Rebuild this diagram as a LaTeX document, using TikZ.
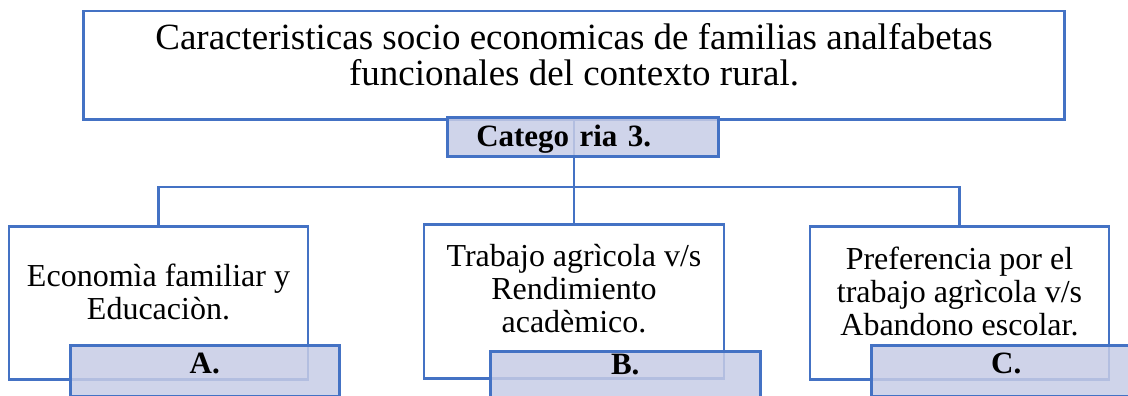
\documentclass[tikz,border=0pt]{standalone}
\usepackage{fontspec}
\setmainfont{Liberation Serif}
\definecolor{bordeazul}{RGB}{68,114,196}
\definecolor{rellenocat}{RGB}{199,204,230}
\tikzset{
  caja/.style={draw=bordeazul, line width=2.5pt, fill=white, align=center, inner sep=0pt, font=\fontsize{32}{33}\selectfont},
  etiqueta/.style={draw=bordeazul, line width=2.5pt, fill=rellenocat, fill opacity=0.85, text opacity=1, inner sep=0pt, font=\bfseries\fontsize{31}{33}\selectfont},
  rama/.style={draw=bordeazul, line width=2.5pt}
}

\begin{document}
\begin{tikzpicture}[x=1pt,y=-1pt]
  \useasboundingbox (0,0) rectangle (1128,396);
  % Titulo
  \node[caja, anchor=north, minimum width=981pt, text height=74pt, text depth=34pt, font=\fontsize{37}{36}\selectfont] (titulo) at (574,10) {Caracteristicas socio economicas de familias analfabetas\\ funcionales del contexto rural.};
  % Subcategorias
  \node[caja, anchor=north, minimum width=299pt, text height=93pt, text depth=60pt] (economia) at (158.5,225) {Economìa familiar y\\ Educaciòn.};
  \node[caja, anchor=north, minimum width=300pt, text height=108pt, text depth=46pt] (trabajo) at (574,223) {Trabajo agrìcola v/s\\ Rendimiento\\ acadèmico.};
  \node[caja, anchor=north, minimum width=299pt, text height=109pt, text depth=44pt] (preferencia) at (959.5,225) {Preferencia por el\\ trabajo agrìcola v/s\\ Abandono escolar.};
  % Ramas
  \coordinate (bifurcacion) at (574,187);
  \draw[rama] (titulo.south) -- (bifurcacion);
  \draw[rama] (bifurcacion) -| (economia.north);
  \draw[rama] (bifurcacion) -| (preferencia.north);
  \draw[rama] (bifurcacion) -- (trabajo.north);
  % Categoria
  \node[etiqueta, anchor=north west, text width=213pt, inner xsep=29pt, align=left, text height=29pt, text depth=10pt] (categoria) at (446,116) {Catego ria 3.};
  % Letras
  \node[etiqueta, anchor=north west, minimum width=269pt, text height=28pt, text depth=23pt] (letraA) at (69,344) {A.};
  \node[etiqueta, anchor=north west, minimum width=270pt, text height=23pt, text depth=30pt] (letraB) at (489,350) {B.};
  \node[etiqueta, anchor=north west, minimum width=270pt, text height=28pt, text depth=23pt] (letraC) at (870,344) {C.};
\end{tikzpicture}
\end{document}
